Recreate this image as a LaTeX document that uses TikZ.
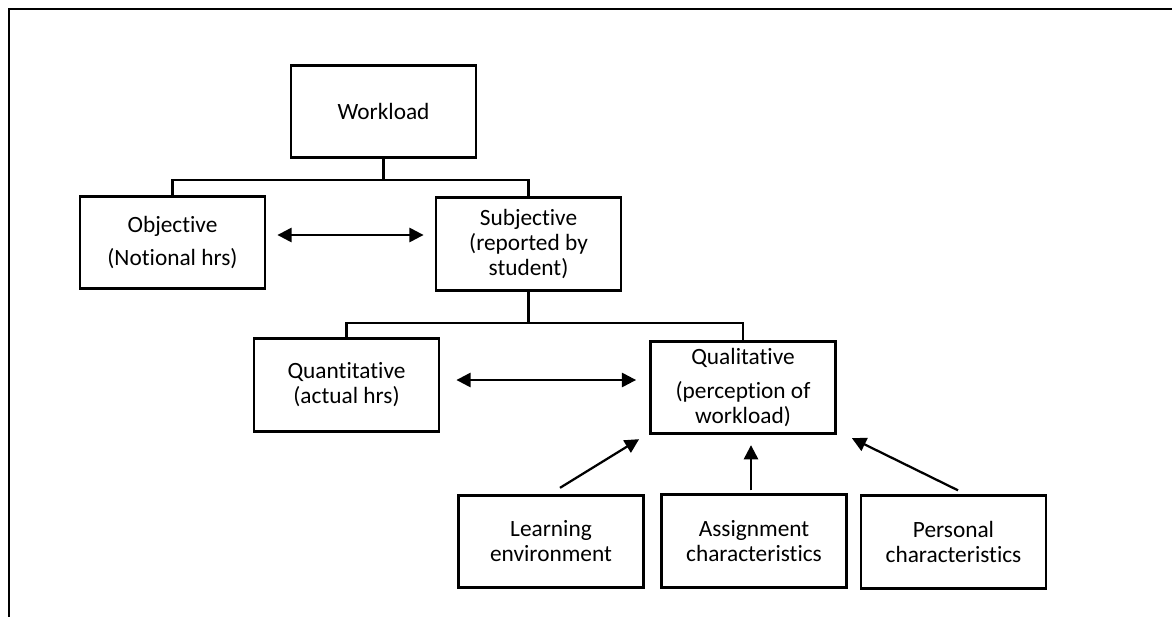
\documentclass[tikz,border=0pt]{standalone}
\usepackage{fontspec}
\setmainfont{Carlito}[Ligatures=NoCommon]
\usepackage{tikz}
\usetikzlibrary{calc}
\usetikzlibrary{arrows.meta}
\tikzset{box/.style={shape=rectangle, draw=black, line width=1.7pt, minimum width=111pt, minimum height=55.5pt, align=center, inner sep=0pt, font=\fontsize{14}{15}\selectfont}}

\begin{document}
\begin{tikzpicture}[x=0.6pt, y=-0.6pt, >={Triangle[length=8.5pt,width=8.5pt]}, line width=1.35pt]
		\useasboundingbox (0,0) rectangle (1172,617);
		\draw[line width=1.6pt] (1172,9) -- (9,9) -- (9,617);
		\node[box] (W) at (383.5,111.5) {Workload};
		\node[box] (Obj) at (172.5,242.5) {Objective\\[5pt](Notional hrs)};
		\node[box] (Sub) at (528.5,244) {Subjective\\(reported by\\student)};
		\node[box] (Qn) at (346.5,385) {Quantitative\\(actual hrs)};
		\node[box] (Ql) at (743,387.5) {Qualitative\\[5pt](perception of\\workload)};
		\node[box] (Le) at (551,541.5) {Learning\\environment};
		\node[box] (As) at (754,541) {Assignment\\characteristics};
		\node[box] (Pe) at (953.5,542) {Personal\\characteristics};
		% tree lines
		\draw (W.south) -- ++(0,21) -| (Obj.north);
		\draw (W.south) -- ++(0,21) -| (Sub.north);
		\draw (Sub.south) -- ++(0,31) -| (Qn.north);
		\draw (Sub.south) -- ++(0,31) -| (Ql.north);
		% arrows
		\path [<->] ($(Obj.east)+(11,-7.5)$) edge ($(Sub.west)+(-11,-9)$);
		\path [<->] ($(Qn.east)+(16,-5)$) edge ($(Ql.west)+(-13,-7.5)$);
		\path [->] ($(Le.north)+(9,-6)$) edge ($(Ql.south west)+(-10,4)$);
		\path [->] ($(As.north)+(-3,-3)$) edge ($(Ql.south)+(8,10)$);
		\path [->] ($(Pe.north)+(4.5,-4)$) edge ($(Ql.south east)+(15,3)$);
	\end{tikzpicture}
\end{document}
